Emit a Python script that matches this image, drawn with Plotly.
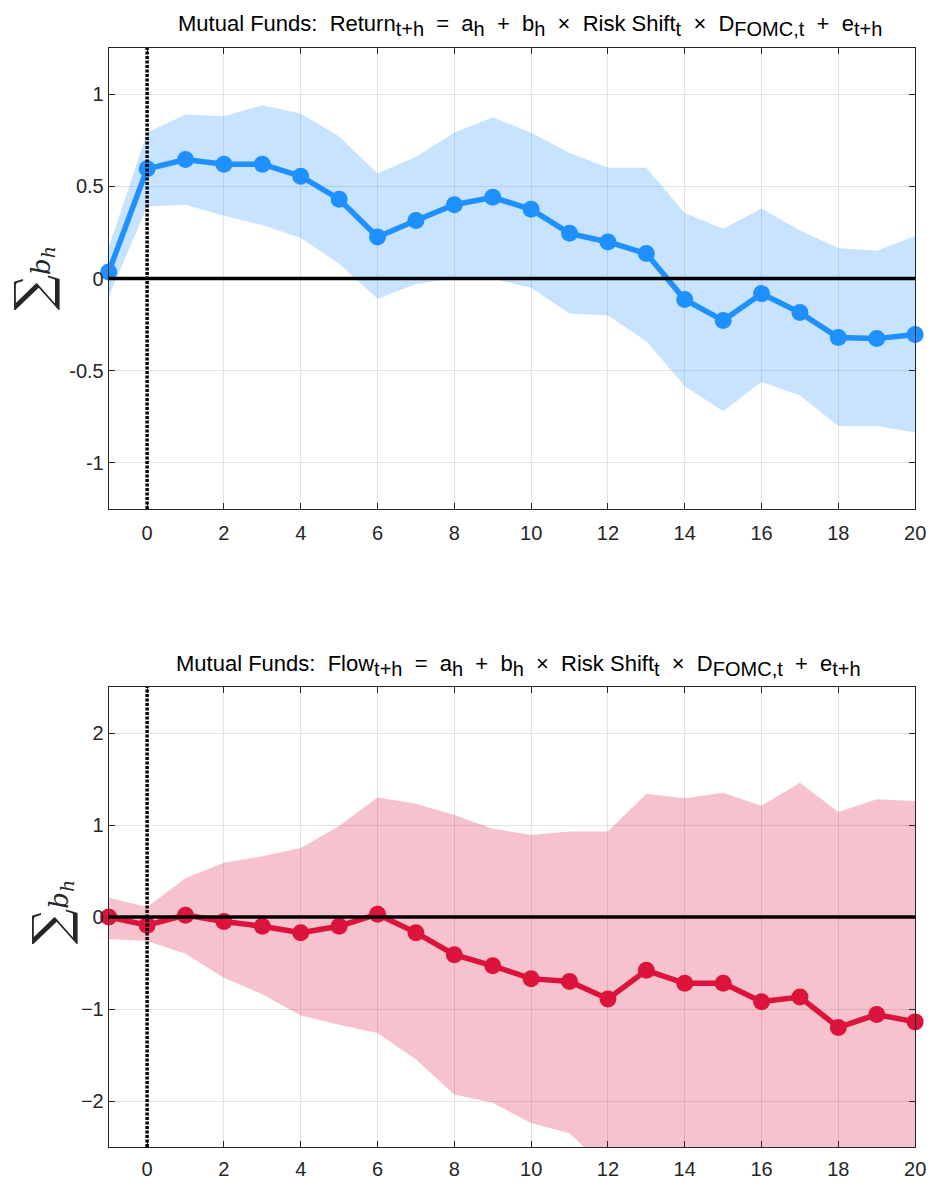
import plotly.graph_objects as go

horizons = list(range(-1, 21))

ret_coef = [0.035, 0.595, 0.645, 0.62, 0.62, 0.555, 0.43, 0.225, 0.315, 0.40, 0.44,
            0.375, 0.245, 0.198, 0.135, -0.114, -0.228, -0.082, -0.185, -0.32, -0.326, -0.304]
ret_upper = [0.17, 0.79, 0.89, 0.88, 0.94, 0.895, 0.77, 0.57, 0.66, 0.79, 0.875,
             0.79, 0.68, 0.60, 0.60, 0.355, 0.27, 0.38, 0.26, 0.165, 0.15, 0.23]
ret_lower = [-0.10, 0.39, 0.40, 0.34, 0.29, 0.22, 0.08, -0.11, -0.03, 0.0, 0.0,
             -0.05, -0.19, -0.20, -0.34, -0.585, -0.72, -0.56, -0.635, -0.80, -0.80, -0.835]

flow_coef = [0.0, -0.09, 0.02, -0.05, -0.10, -0.17, -0.10, 0.03, -0.17, -0.41, -0.53,
             -0.67, -0.70, -0.89, -0.58, -0.72, -0.72, -0.92, -0.87, -1.20, -1.06, -1.14]
flow_upper = [0.21, 0.11, 0.42, 0.59, 0.66, 0.75, 0.99, 1.30, 1.23, 1.11, 0.96,
              0.89, 0.93, 0.93, 1.34, 1.29, 1.35, 1.21, 1.46, 1.14, 1.28, 1.26]
flow_lower = [-0.24, -0.26, -0.40, -0.66, -0.84, -1.07, -1.17, -1.26, -1.55, -1.93, -2.02,
              -2.24, -2.35, -2.75, -2.70, -2.90, -3.00, -3.10, -3.20, -3.40, -3.40, -3.50]

x_ticks = list(range(0, 21, 2))
ret_yticks = [-1, -0.5, 0, 0.5, 1]
ret_yticklabels = ["-1", "-0.5", "0", "0.5", "1"]
flow_yticks = [-2, -1, 0, 1, 2]


def sub(s):
    return '<sub><span style="font-size:20px">' + s + '</span></sub>'


SP = "&nbsp; "
title_ret = ("Mutual Funds:&nbsp; Return" + sub("t+h") + SP + "=" + SP + "a" + sub("h") + SP + "+" + SP +
             "b" + sub("h") + SP + "\u00d7" + SP + "Risk Shift" + sub("t") + SP + "\u00d7" + SP +
             "D" + sub("FOMC,t") + SP + "+" + SP + "e" + sub("t+h"))
title_flow = ("Mutual Funds:&nbsp; Flow" + sub("t+h") + SP + "=" + SP + "a" + sub("h") + SP + "+" + SP +
              "b" + sub("h") + SP + "\u00d7" + SP + "Risk Shift" + sub("t") + SP + "\u00d7" + SP +
              "D" + sub("FOMC,t") + SP + "+" + SP + "e" + sub("t+h"))
ylabel = ('<span style="font-size:50px">\u2211</span>'
          '<i>b<sub><span style="font-size:19px">h</span></sub></i>')

W, H = 939, 1188
FONT = "Liberation Sans, Arial"
AX_COLOR = "#262626"
GRID = "#e3e3e3"

fig = go.Figure()

panels = [
    dict(coef=ret_coef, up=ret_upper, lo=ret_lower, line="#1E90FF", band="rgba(30,144,255,0.25)",
         xa="x", ya="y"),
    dict(coef=flow_coef, up=flow_upper, lo=flow_lower, line="#DC143C", band="rgba(220,20,60,0.26)",
         xa="x2", ya="y2"),
]

for p in panels:
    fig.add_trace(go.Scatter(x=horizons, y=p["lo"], mode="lines", line=dict(width=0, color=p["band"]),
                             showlegend=False, hoverinfo="skip", xaxis=p["xa"], yaxis=p["ya"]))
    fig.add_trace(go.Scatter(x=horizons, y=p["up"], mode="lines", line=dict(width=0, color=p["band"]),
                             fill="tonexty", fillcolor=p["band"], showlegend=False, hoverinfo="skip",
                             xaxis=p["xa"], yaxis=p["ya"]))
    fig.add_trace(go.Scatter(x=horizons, y=p["coef"], mode="lines+markers",
                             line=dict(color=p["line"], width=5.5),
                             marker=dict(color=p["line"], size=17),
                             cliponaxis=False, showlegend=False,
                             xaxis=p["xa"], yaxis=p["ya"]))

x_dom = [110 / W, 926 / W]
top_dom = [1 - 509 / H, 1 - 48 / H]
bot_dom = [1 - 1147 / H, 1 - 687 / H]

axis_common = dict(showline=True, linecolor=AX_COLOR, linewidth=1, mirror="ticks", ticks="inside",
                   ticklen=6, tickcolor=AX_COLOR, showgrid=True, gridcolor=GRID, gridwidth=1,
                   zeroline=False, tickfont=dict(family=FONT, size=20, color=AX_COLOR))

fig.update_layout(
    width=W, height=H,
    margin=dict(l=0, r=0, t=0, b=0),
    paper_bgcolor="white", plot_bgcolor="white",
    xaxis=dict(domain=x_dom, range=[-1, 20], tickvals=x_ticks, anchor="y", ticklabelstandoff=6,
               **axis_common),
    yaxis=dict(domain=top_dom, range=[-1.25, 1.25], tickvals=ret_yticks, ticktext=ret_yticklabels,
               anchor="x", **axis_common),
    xaxis2=dict(domain=x_dom, range=[-1, 20], tickvals=x_ticks, anchor="y2", ticklabelstandoff=4,
                **axis_common),
    yaxis2=dict(domain=bot_dom, range=[-2.5, 2.5], tickvals=flow_yticks, anchor="x2", **axis_common),
)

for xa, ya in [("x", "y"), ("x2", "y2")]:
    fig.add_shape(type="line", xref=xa, yref=ya, x0=-1, x1=20, y0=0, y1=0,
                  line=dict(color="black", width=3.5), layer="above")
    fig.add_shape(type="line", xref=xa, yref=ya + " domain", x0=0, x1=0, y0=0, y1=1,
                  line=dict(color="black", width=3.5, dash="3px,1.5px"), layer="above")

fig.add_annotation(text=title_ret, xref="paper", yref="paper", x=536 / W, y=1 - 25 / H,
                   xanchor="center", yanchor="middle", showarrow=False,
                   font=dict(family=FONT, size=22, color="black"))
fig.add_annotation(text=title_flow, xref="paper", yref="paper", x=525 / W, y=1 - 666 / H,
                   xanchor="center", yanchor="middle", showarrow=False,
                   font=dict(family=FONT, size=22, color="black"))

fig.add_annotation(text=ylabel, xref="paper", yref="paper", x=33 / W, y=1 - 278 / H, textangle=-90,
                   xanchor="center", yanchor="middle", showarrow=False,
                   font=dict(family="DejaVu Serif", size=26, color=AX_COLOR))
fig.add_annotation(text=ylabel, xref="paper", yref="paper", x=52 / W, y=1 - 912 / H, textangle=-90,
                   xanchor="center", yanchor="middle", showarrow=False,
                   font=dict(family="DejaVu Serif", size=26, color=AX_COLOR))

fig.write_html("out.html")
